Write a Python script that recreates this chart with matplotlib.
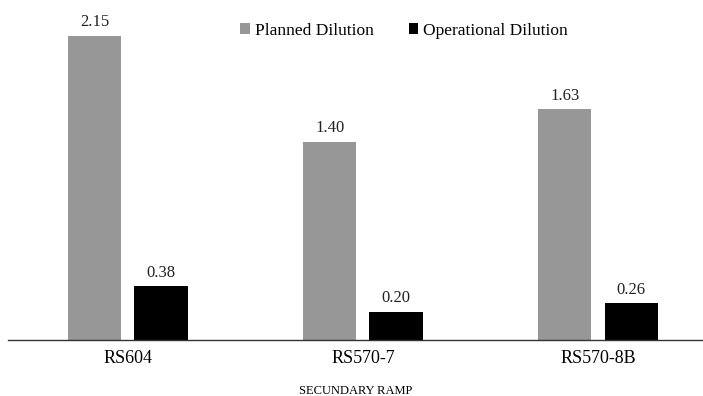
import matplotlib.pyplot as plt
import numpy as np

plt.rcParams["font.family"] = ["Liberation Serif", "DejaVu Serif"]

ramps = ["RS604", "RS570-7", "RS570-8B"]
planned = [2.15, 1.40, 1.63]
operational = [0.38, 0.20, 0.26]

fig = plt.figure(figsize=(7.03, 3.96), dpi=100)
ax = fig.add_axes([8 / 703, 56 / 396, 695 / 703, 340 / 396])

x = np.arange(len(ramps))
width = 0.226
offset = 0.141

b1 = ax.bar(x - offset, planned, width, color="#979797", label="Planned Dilution")
b2 = ax.bar(x + offset, operational, width, color="#000000", label="Operational Dilution")

# value labels on top of each bar
for bars in (b1, b2):
    for rect in bars:
        h = rect.get_height()
        ax.annotate(f"{h:.2f}", (rect.get_x() + rect.get_width() / 2, h),
                    xytext=(0, 4), textcoords="offset points",
                    ha="center", va="bottom", fontsize=12, color="#222222")

ax.set_xlim(-0.51, 2.447)
ax.set_ylim(0, 2.404)
ax.set_xticks(x)
ax.set_xticklabels(ramps, fontsize=13)
ax.tick_params(axis="x", length=0, pad=7)
ax.set_yticks([])
for side in ("top", "right", "left"):
    ax.spines[side].set_visible(False)
ax.spines["bottom"].set_color("#333333")
ax.spines["bottom"].set_linewidth(1.0)

ax.set_xlabel("SECUNDARY RAMP", fontsize=9, labelpad=13)

ax.legend(loc="upper center", bbox_to_anchor=(0.570, 1.0), ncol=2, frameon=False,
          fontsize=12.5, handlelength=0.55, handleheight=0.55, handletextpad=0.3,
          columnspacing=2.0, borderaxespad=0.9)

fig.savefig("out.png", dpi=100)
